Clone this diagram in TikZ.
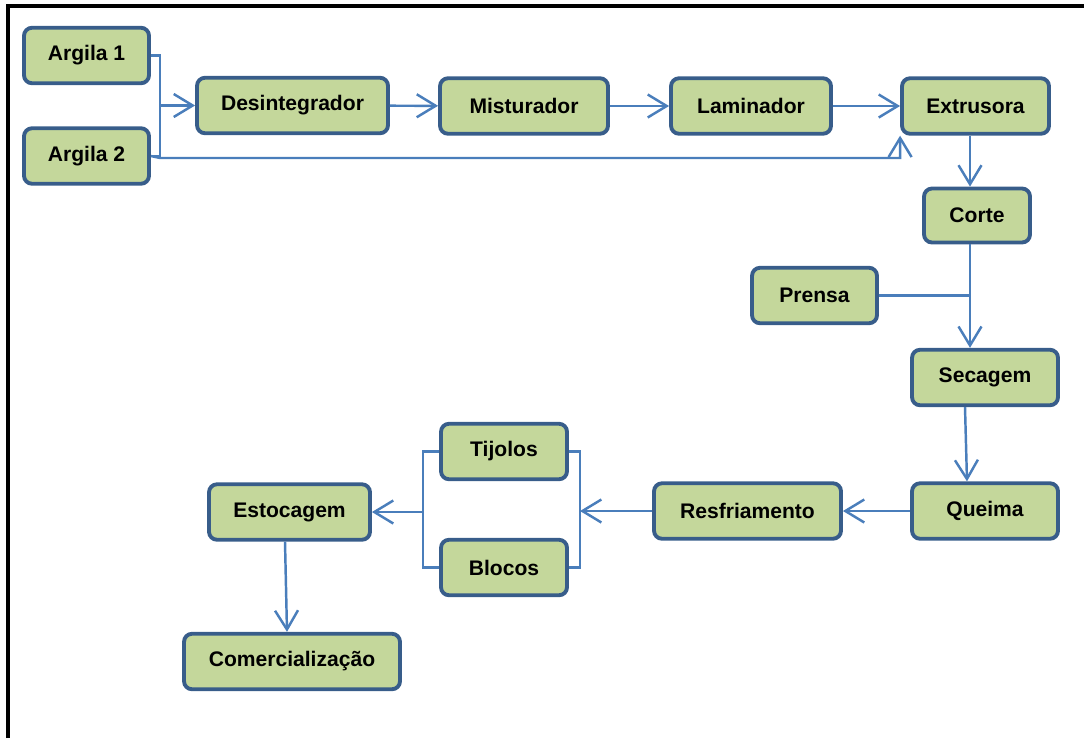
\documentclass[tikz,border=0pt]{standalone}
\usepackage{fontspec}
\setmainfont{Liberation Sans}
\usetikzlibrary{arrows.meta,calc}
\definecolor{caixa}{RGB}{196,215,155}
\definecolor{borda}{RGB}{56,93,138}
\definecolor{linha}{RGB}{74,126,187}

\begin{document}
\begin{tikzpicture}[x=0.02cm,y=-0.02cm,
		etapa/.style={draw=borda,line width=2.2pt,fill=caixa,rounded corners=0.16cm,minimum height=1.11cm,inner sep=0pt,font=\fontsize{12}{14}\selectfont\bfseries},
		fluxo/.style={draw=linha,line width=1.4pt},
		seta/.style={fluxo,-{Straight Barb[length=0.38cm,width=0.46cm]}}]
				\useasboundingbox (0,0) rectangle (1084,738);
				\draw[line width=2pt] (8,738) -- (8,6) -- (1084,6);
				% etapas
				\node[etapa,minimum width=2.50cm] (arg1) at (86.5,55.5) {Argila 1};
				\node[etapa,minimum width=2.50cm] (arg2) at (86.5,156) {Argila 2};
				\node[etapa,minimum width=3.82cm] (desi) at (292.5,105.5) {Desintegrador};
				\node[etapa,minimum width=3.36cm] (mist) at (524,106) {Misturador};
				\node[etapa,minimum width=3.20cm] (lami) at (751,106) {Laminador};
				\node[etapa,minimum width=2.94cm] (extr) at (975.5,106) {Extrusora};
				\node[etapa,minimum width=2.12cm,minimum height=1.08cm] (corte) at (977,215.5) {Corte};
				\node[etapa,minimum width=2.50cm] (prensa) at (814.5,295.5) {Prensa};
				\node[etapa,minimum width=2.92cm] (seca) at (985,377.5) {Secagem};
				\node[etapa,minimum width=2.92cm] (queima) at (985,511) {Queima};
				\node[etapa,minimum width=3.74cm] (resf) at (747.5,511) {Resfriamento};
				\node[etapa,minimum width=2.52cm] (tij) at (504,451.5) {Tijolos};
				\node[etapa,minimum width=2.52cm] (bloc) at (504,567.5) {Blocos};
				\node[etapa,minimum width=3.22cm] (esto) at (289.5,512) {Estocagem};
				\node[etapa,minimum width=4.32cm] (com) at (292,661.5) {Comercialização};
				% ligacoes
				\coordinate (jA) at (160,105.5);
				\coordinate (jB) at (580,511);
				\coordinate (jC) at (423,512);
				\draw[fluxo] (arg1.east) -| (jA) |- (arg2.east);
				\draw[seta] (jA) -- (desi.west);
				\draw[seta] (arg2.east) -- (160,158) -| (extr.south west);
				\draw[seta] (desi) -- (mist);
				\draw[seta] (mist) -- (lami);
				\draw[seta] (lami) -- (extr);
				\draw[seta] (extr.south -| 970,0) -- (corte.north -| 970,0);
				\draw[seta] (corte.south -| 970,0) -- (seca.north -| 970,0);
				\draw[fluxo] (prensa.east) -- (prensa.east -| 970,0);
				\draw[seta] (seca.south -| 965,0) -- (queima.north -| 967,0);
				\draw[seta] (queima) -- (resf);
				\draw[seta] (resf.west) -- (jB);
				\draw[fluxo] (tij.east) -| (jB) |- (bloc.east);
				\draw[fluxo] (tij.west) -| (jC) |- (bloc.west);
				\draw[seta] (jC) -- (esto.east);
				\draw[seta] (esto.south -| 285,0) -- (com.north -| 287,0);
			\end{tikzpicture}
\end{document}
